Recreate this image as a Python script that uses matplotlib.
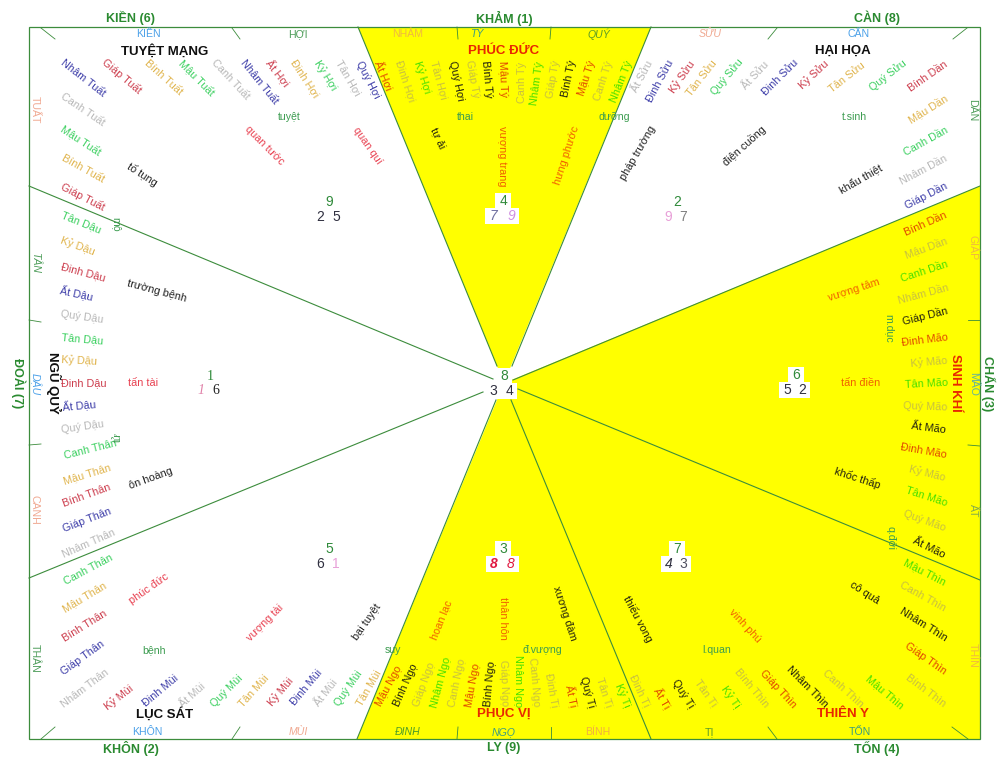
import matplotlib
matplotlib.use("Agg")
import matplotlib.pyplot as plt
from matplotlib.patches import Polygon, Rectangle

plt.rcParams['font.family'] = ['Liberation Sans', 'DejaVu Sans']

# the 8 palaces round the frame
palace_names = ["KIỀN (6)", "KHẢM (1)", "CÀN (8)", "CHẤN (3)", "TỐN (4)", "LY (9)", "KHÔN (2)", "ĐOÀI (7)"]
# 24 mountains, clockwise from top left
mountain_names = ["KIỀN", "HỢI", "NHÂM", "TÝ", "QUÝ", "SỬU", "CẤN", "DẦN", "GIÁP", "MÃO", "ẤT", "THÌN",
                  "TỐN", "TỊ", "BÍNH", "NGỌ", "ĐINH", "MÙI", "KHÔN", "THÂN", "CANH", "DẬU", "TÂN", "TUẤT"]
# the 8 life stars
star_names = ["TUYỆT MẠNG", "PHÚC ĐỨC", "HẠI HỌA", "SINH KHÍ", "THIÊN Y", "PHỤC VỊ", "LỤC SÁT", "NGŨ QUỶ"]
# 12 growth phases
phase_names = ["tuyệt", "thai", "dưỡng", "t.sinh", "m.dục", "q.đới", "l.quan", "đ.vượng", "suy", "bệnh", "tử", "mộ"]
# the ring of 60 sexagenary names per sector
names_tuat_hoi = ["Nhâm Tuất", "Giáp Tuất", "Bính Tuất", "Mậu Tuất", "Canh Tuất", "Nhâm Tuất",
                  "Ất Hợi", "Đinh Hợi", "Kỷ Hợi", "Tân Hợi", "Quý Hợi"]
names_kham = ["Ất Hợi", "Đinh Hợi", "Kỷ Hợi", "Tân Hợi", "Quý Hợi", "Giáp Tý", "Bính Tý", "Mậu Tý",
              "Canh Tý", "Nhâm Tý", "Giáp Tý", "Bính Tý", "Mậu Tý", "Canh Tý", "Nhâm Tý"]
names_suu_dan = ["Ất Sửu", "Đinh Sửu", "Kỷ Sửu", "Tân Sửu", "Quý Sửu", "Ất Sửu", "Đinh Sửu", "Kỷ Sửu",
                 "Tân Sửu", "Quý Sửu", "Bính Dần", "Mậu Dần", "Canh Dần", "Nhâm Dần", "Giáp Dần"]
names_chan = ["Bính Dần", "Mậu Dần", "Canh Dần", "Nhâm Dần", "Giáp Dần", "Đinh Mão", "Kỷ Mão", "Tân Mão",
              "Quý Mão", "Ất Mão", "Đinh Mão", "Kỷ Mão", "Tân Mão", "Quý Mão", "Ất Mão"]
names_ton = ["Mậu Thìn", "Canh Thìn", "Nhâm Thìn", "Giáp Thìn", "Bính Thìn", "Mậu Thìn", "Canh Thìn",
             "Nhâm Thìn", "Giáp Thìn", "Bính Thìn", "Kỷ Tị", "Tân Tị", "Quý Tị", "Ất Tị", "Đinh Tị"]
names_ly = ["Kỷ Tị", "Tân Tị", "Quý Tị", "Ất Tị", "Đinh Tị", "Canh Ngọ", "Nhâm Ngọ", "Giáp Ngọ", "Bính Ngọ",
            "Mậu Ngọ", "Canh Ngọ", "Nhâm Ngọ", "Giáp Ngọ", "Bính Ngọ", "Mậu Ngọ"]
names_mui_than = ["Tân Mùi", "Quý Mùi", "Ất Mùi", "Đinh Mùi", "Kỷ Mùi", "Tân Mùi", "Quý Mùi", "Ất Mùi", "Đinh Mùi",
                  "Kỷ Mùi", "Nhâm Thân", "Giáp Thân", "Bính Thân", "Mậu Thân", "Canh Thân"]
names_doai = ["Nhâm Thân", "Giáp Thân", "Bính Thân", "Mậu Thân", "Canh Thân", "Quý Dậu", "Ất Dậu", "Đinh Dậu",
              "Kỷ Dậu", "Tân Dậu", "Quý Dậu", "Ất Dậu", "Đinh Dậu", "Kỷ Dậu", "Tân Dậu"]
names_tuat_left = ["Giáp Tuất", "Bính Tuất", "Mậu Tuất", "Canh Tuất"]
ring_names = (names_tuat_hoi + names_kham + names_suu_dan + names_chan + names_ton + names_ly
              + names_mui_than + names_doai + names_tuat_left)

# inner stars
omen_names = ["quan tước", "quan quí", "tự ải", "vượng trang", "hưng phước", "pháp trường", "điện cuồng", "khẩu thiệt",
              "vượng tâm", "tấn điền", "khốc thấp", "cô quả", "vinh phú", "thiếu vong", "xương đàm", "thân hôn",
              "hoan lạc", "bại tuyệt", "vượng tài", "phúc đức", "ôn hoàng", "tấn tài", "trường bệnh", "tố tụng"]

# flying star digits for each palace: top, left, right
digits_top = ["9", "4", "2", "1", "8", "6", "5", "3", "7"]
digits_left = ["2", "7", "9", "1", "3", "5", "6", "8", "4"]
digits_right = ["5", "9", "7", "6", "4", "2", "1", "8", "3"]

# colour codes for the ring labels
pal = {'n': '#3c3ca8', 'r': '#cc3c4c', 'g': '#e0b44c', 'v': '#3cd060', 'x': '#b8b8b8',
       'o': '#e04800', 'p': '#c8c040', 'l': '#48e000', 'k': '#202010'}
GREEN = '#2f8a3a'
LINE = '#3c8c3c'

# x, y, rotation, colour of each ring label, same order as ring_names
ring_layout = [
    (83, 78, -38, 'n'), (122, 76, -40, 'r'), (163, 77, -42, 'g'), (197, 77, -45, 'v'), (230, 79, -47, 'x'), (259, 82, -51, 'n'),
    (278, 73, -52, 'r'), (305, 78, -57, 'g'), (325, 75, -58, 'v'), (348, 78, -60, 'x'), (368, 80, -63, 'n'),
    (384, 75, -68, 'o'), (405, 81, -72, 'p'), (422, 77, -72, 'l'), (439, 80, -75, 'p'), (456, 81, -78, 'k'),
    (472, 79, -80, 'p'), (487, 79, -85, 'k'), (503, 79, -88, 'o'), (522, 82, 90, 'p'), (537, 83, 82, 'l'),
    (553, 79, 80, 'p'), (569, 79, 78, 'k'), (587, 78, 72, 'o'), (604, 81, 72, 'p'), (622, 82, 68, 'l'),
    (642, 77, 62, 'x'), (660, 81, 62, 'n'), (682, 77, 55, 'r'), (702, 78, 52, 'g'), (727, 77, 50, 'v'),
    (755, 75, 47, 'x'), (780, 78, 45, 'n'), (814, 75, 43, 'r'), (847, 77, 38, 'g'), (888, 75, 38, 'v'),
    (928, 76, 35, 'r'), (928, 109, 32, 'g'), (926, 141, 29, 'v'), (924, 170, 28, 'x'), (926, 196, 27, 'n'),
    (926, 224, 24, 'o'), (926, 247, 20, 'p'), (924, 272, 18, 'l'), (923, 294, 15, 'p'), (925, 316, 14, 'k'),
    (925, 340, 7, 'o'), (929, 362, 5, 'p'), (926, 384, 3, 'l'), (925, 407, -2, 'p'), (929, 428, -7, 'k'),
    (924, 451, -10, 'o'), (927, 473, -14, 'p'), (926, 497, -18, 'l'), (925, 521, -20, 'p'), (929, 548, -26, 'k'),
    (925, 572, -27, 'l'), (923, 597, -29, 'p'), (923, 625, -32, 'k'), (926, 659, -35, 'o'), (926, 691, -37, 'p'),
    (885, 692, -40, 'l'), (843, 689, -42, 'p'), (807, 687, -45, 'k'), (778, 689, -47, 'o'), (751, 688, -50, 'p'),
    (731, 697, -55, 'l'), (706, 693, -55, 'p'), (683, 694, -58, 'k'), (663, 698, -60, 'o'), (640, 691, -65, 'p'),
    (623, 695, -68, 'l'), (604, 692, -72, 'p'), (587, 692, -75, 'k'), (572, 696, -78, 'o'), (552, 690, -80, 'p'),
    (534, 682, -85, 'p'), (518, 681, -90, 'l'), (504, 683, -88, 'p'), (490, 684, 85, 'k'), (473, 685, 80, 'o'),
    (457, 683, 78, 'p'), (441, 682, 75, 'l'), (424, 685, 70, 'p'), (406, 685, 66, 'k'), (389, 686, 62, 'o'),
    (369, 688, 60, 'g'), (349, 688, 55, 'v'), (326, 693, 52, 'x'), (307, 688, 50, 'n'), (281, 692, 50, 'r'),
    (254, 691, 48, 'g'), (227, 691, 45, 'v'), (193, 695, 42, 'x'), (161, 691, 40, 'n'), (119, 697, 38, 'r'),
    (85, 688, 37, 'x'), (83, 658, 36, 'n'), (85, 626, 32, 'r'), (85, 597, 31, 'g'), (88, 570, 28, 'v'),
    (89, 544, 24, 'x'), (87, 520, 21, 'n'), (87, 496, 20, 'r'), (87, 474, 17, 'g'), (90, 450, 14, 'v'),
    (83, 427, 8, 'x'), (79, 405, 5, 'n'), (84, 383, 0, 'r'), (79, 361, -3, 'g'), (82, 339, -5, 'v'),
    (82, 317, -8, 'x'), (77, 293, -12, 'n'), (83, 272, -15, 'r'), (78, 246, -20, 'g'), (81, 222, -22, 'v'),
    (83, 197, -27, 'r'), (83, 169, -29, 'g'), (81, 140, -33, 'v'), (83, 110, -34, 'x'),
]
palace_layout = [(131, 18, 0), (504, 18, 0), (877, 18, 0), (988, 384, -90), (877, 748, 0), (504, 748, 0), (131, 748, 0), (18, 383, -90)]
# x, y, rotation, colour, italic
mountain_layout = [
    (148, 34, 0, '#4aa0e8', 0), (298, 34, 0, '#4c9c58', 0), (408, 34, 0, '#f0b840', 0), (477, 34, 0, '#3c9c80', 1),
    (599, 34, 0, '#5c9c28', 1), (710, 34, 0, '#f0a890', 1), (859, 34, 0, '#4aa0e8', 0), (972, 110, -90, '#4c9c58', 0),
    (973, 248, -90, '#f0b840', 0), (973, 384, -90, '#60b0a0', 0), (973, 511, -90, '#80a850', 0), (973, 655, -90, '#f0b840', 0),
    (860, 732, 0, '#3c9c80', 0), (709, 732, 0, '#5c9c28', 0), (598, 732, 0, '#f0b040', 0), (504, 732, 0, '#3c9c80', 1),
    (408, 732, 0, '#4c9c28', 1), (298, 732, 0, '#f0a890', 1), (147, 732, 0, '#4aa0e8', 0), (35, 658, -90, '#4c9c58', 0),
    (35, 510, -90, '#f0a890', 0), (35, 384, -90, '#4aa0e8', 1), (35, 262, -90, '#4c9c58', 1), (35, 110, -90, '#f0a890', 0),
]
star_layout = [(165, 51, 0, '#101010'), (504, 51, 0, '#e82800'), (843, 51, 0, '#101010'), (955, 383, -90, '#e82800'),
               (843, 714, 0, '#e82800'), (504, 714, 0, '#e82800'), (165, 714, 0, '#101010'), (54, 383, -90, '#101010')]
phase_layout = [(289, 117, 0), (465, 117, 0), (614, 117, 0), (854, 117, 0), (889, 328, -90), (890, 538, -90),
                (717, 650, 0), (542, 650, 0), (393, 650, 0), (154, 650, 0), (118, 437, 90), (116, 224, -90)]
omen_layout = [
    (264, 145, -45, '#e84050'), (367, 146, -55, '#e84050'), (438, 138, -65, '#202010'), (502, 156, -90, '#f06000'),
    (567, 155, 72, '#f06000'), (638, 153, 60, '#202020'), (744, 146, 42, '#202020'), (861, 179, 30, '#202020'),
    (854, 290, 18, '#f06000'), (861, 383, 0, '#f06000'), (857, 478, -18, '#202010'), (865, 593, -33, '#202010'),
    (745, 626, -47, '#f06000'), (638, 619, -62, '#202010'), (565, 613, -72, '#202010'), (503, 618, -90, '#f06000'),
    (441, 620, 68, '#f06000'), (367, 622, 55, '#202020'), (265, 623, 45, '#e84050'), (149, 589, 35, '#e84050'),
    (151, 478, 20, '#202020'), (143, 383, 0, '#e84050'), (157, 291, -15, '#202020'), (142, 175, -33, '#202020'),
]
# centre of the top digit of each group
digit_centres = [(329, 202), (503, 201), (677, 202), (210, 376), (504, 376), (796, 375), (329, 549), (503, 549), (677, 549)]
left_x = [320, 493, 668, 201, 493, 787, 320, 494, 669]
right_x = [336, 511, 683, 216, 509, 802, 336, 511, 683]
left_styles = [('#303040', 0, 0), ('#7070a0', 1, 0), ('#e8a0d8', 0, 0), ('#e080a8', 1, 0), ('#303040', 0, 0),
               ('#303040', 0, 0), ('#303040', 0, 0), ('#e01840', 1, 1), ('#303040', 1, 0)]
right_styles = [('#303040', 0, 0), ('#d090e0', 1, 0), ('#808080', 0, 0), ('#202020', 0, 0), ('#303040', 0, 0),
                ('#303040', 0, 0), ('#e8a0d8', 0, 0), ('#e01840', 1, 0), ('#505060', 0, 0)]
boxed = [1, 4, 5, 7, 8]

fig = plt.figure(figsize=(10, 7.71), dpi=100)
ax = fig.add_axes([0, 0, 1, 1])
ax.set_xlim(0, 1000)
ax.set_ylim(771, 0)
ax.axis('off')

# yellow sectors
ax.add_patch(Polygon([(358, 27), (651, 27), (504, 383)], fc='#ffff00', ec='none', zorder=1))
ax.add_patch(Polygon([(504, 383), (980, 186), (980, 739), (357, 739)], fc='#ffff00', ec='none', zorder=1))

# spokes, stop short of the centre
spokes = [((358, 27), (497, 366)), ((651, 27), (512, 366)), ((980, 186), (513, 380)), ((980, 580), (518, 389)),
          ((651, 739), (511, 400)), ((357, 739), (496, 400)), ((29, 578), (483, 392)), ((29, 186), (493, 379))]
for a, b in spokes:
    ax.plot([a[0], b[0]], [a[1], b[1]], color=LINE, lw=0.8, zorder=2)

ax.add_patch(Rectangle((29, 27), 951, 712, fc='none', ec=LINE, lw=0.9, zorder=3))

# small ticks between mountains
ticks = [((41, 28), (55, 39)), ((232, 28), (240, 39)), ((457, 27), (458, 39)), ((551, 27), (550, 39)),
         ((777, 28), (768, 39)), ((967, 28), (953, 39)), ((968, 320), (980, 320)), ((968, 445), (980, 446)),
         ((29, 320), (41, 322)), ((29, 445), (41, 444)), ((41, 739), (55, 727)), ((232, 739), (240, 727)),
         ((457, 739), (458, 727)), ((551, 739), (551, 727)), ((777, 739), (768, 727)), ((968, 739), (952, 727))]
for a, b in ticks:
    ax.plot([a[0], b[0]], [a[1], b[1]], color=LINE, lw=0.6, zorder=2)


def put(x, y, s, rot=0, color='k', size=7.8, **kw):
    return ax.text(x, y, s, rotation=rot, rotation_mode='anchor', ha='center', va='center',
                   color=color, fontsize=size, zorder=5, **kw)


for s, (x, y, rot, c) in zip(ring_names, ring_layout):
    put(x, y, s, rot, pal[c])
for s, (x, y, rot) in zip(palace_names, palace_layout):
    put(x, y, s, rot, '#2a8a30', 9, fontweight='bold')
for s, (x, y, rot, c, it) in zip(mountain_names, mountain_layout):
    put(x, y, s, rot, c, 7.6, fontstyle='italic' if it else 'normal')
for s, (x, y, rot, c) in zip(star_names, star_layout):
    put(x, y, s, rot, c, 9.5, fontweight='bold')
for s, (x, y, rot) in zip(phase_names, phase_layout):
    put(x, y, s, rot, '#3c9c50', 7.6)
for s, (x, y, rot, c) in zip(omen_names, omen_layout):
    put(x, y, s, rot, c, 7.8)

# digits with their white boxes
for i, (x, y) in enumerate(digit_centres):
    if i in boxed:
        ax.add_patch(Rectangle((x - 8, y - 8), 16, 16, fc='white', ec='none', zorder=4))
        ax.add_patch(Rectangle((left_x[i] - 8, y + 7), right_x[i] - left_x[i] + 16, 16, fc='white', ec='none', zorder=4))
    fam = ['Liberation Serif'] if i == 3 else ['Liberation Sans']
    put(x, y, digits_top[i], 0, GREEN, 10, family=fam)
    c, it, bold = left_styles[i]
    put(left_x[i], y + 15, digits_left[i], 0, c, 10, family=fam, fontstyle='italic' if it else 'normal',
        fontweight='bold' if bold else 'normal')
    c, it, bold = right_styles[i]
    put(right_x[i], y + 15, digits_right[i], 0, c, 10, family=fam, fontstyle='italic' if it else 'normal',
        fontweight='bold' if bold else 'normal')

fig.savefig('out.png', dpi=100)
